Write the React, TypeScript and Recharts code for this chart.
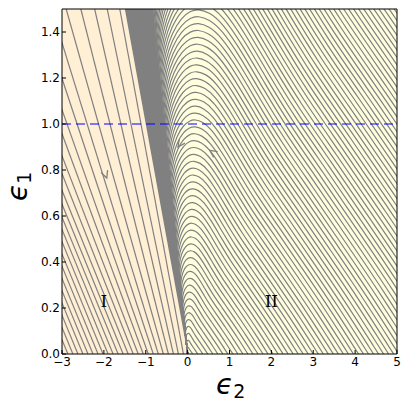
import React from 'react';
import {
  ComposedChart, Line, Area, Scatter, XAxis, YAxis, CartesianGrid, ReferenceLine, Label,
} from 'recharts';

const xTicks = [-3, -2, -1, 0, 1, 2, 3, 4, 5];
const yTicks = [0, 0.2, 0.4, 0.6, 0.8, 1.0, 1.2, 1.4];

// region I flow lines: where each one meets eps1 = 0 and eps1 = 1.5
const lineFeet = [
  -0.1, -0.22, -0.34, -0.46, -0.58, -0.7, -0.82, -0.94, -1.06, -1.18, -1.3, -1.42, -1.54,
  -1.66, -1.78, -1.9, -2.02, -2.14, -2.26, -2.38, -2.5, -2.62, -2.74, -2.86, -2.98,
];
const lineTops = [
  -1.62, -1.92, -2.22, -2.55, -2.9, -3.25, -3.55, -3.85, -4.1, -4.35, -4.55, -4.75, -4.9,
  -5.04, -5.16, -5.28, -5.4, -5.52, -5.64, -5.76, -5.88, -6.0, -6.12, -6.24, -6.36,
];

// region II: one hump (peak height 1) and the peak heights of the family
const humpShape = [
  [0, 0], [-0.11, 0.18], [-0.23, 0.36], [-0.33, 0.52], [-0.4, 0.64], [-0.43, 0.73],
  [-0.42, 0.8], [-0.36, 0.87], [-0.25, 0.93], [-0.1, 0.975], [0.05, 0.995], [0.17, 1],
  [0.35, 0.99], [0.55, 0.96], [0.85, 0.88], [1.2, 0.77], [1.6, 0.65], [2.1, 0.52],
  [2.7, 0.36], [3.3, 0.2], [4.0, 0.0],
];
const humpHeights = [
  0.03, 0.06, 0.09, 0.12, 0.15, 0.18, 0.21, 0.24, 0.27, 0.3, 0.33, 0.36, 0.39, 0.42, 0.45,
  0.48, 0.51, 0.54, 0.57, 0.6, 0.63, 0.66, 0.69, 0.72, 0.75, 0.78, 0.81, 0.84, 0.87, 0.9,
  0.93, 0.96, 0.99, 1.02, 1.05, 1.08, 1.11, 1.14, 1.17, 1.2, 1.23, 1.26, 1.29, 1.32, 1.35,
  1.38, 1.41, 1.44, 1.47, 1.5, 1.53, 1.56, 1.59, 1.62, 1.65, 1.68, 1.71, 1.74, 1.77, 1.8,
  1.83, 1.86, 1.89, 1.92, 1.95, 1.98, 2.01, 2.04, 2.07, 2.1, 2.13, 2.16, 2.19, 2.22, 2.25,
  2.28, 2.31, 2.34, 2.37, 2.4, 2.43, 2.46, 2.49, 2.52, 2.55, 2.58, 2.61, 2.64, 2.67, 2.7,
  2.73, 2.76, 2.79, 2.82, 2.85, 2.9, 3.0, 3.2, 3.4, 3.7, 4.0, 4.5, 5.0, 6.0, 8.0,
];

// dense separatrix band
const bandX = [-1.5, -0.97, -0.54, 0];
const bandLow = [1.5, 0.97, 0.54, 0];
const bandHigh = [1.5, 1.5, 1.0, 0];

// region I fill (left of eps1 = -eps2)
const regionOneX = [-3, -1.5, 0];
const regionOneY = [1.5, 1.5, 0];

const arrowX = [-1.93, 0.53, -0.23];
const arrowY = [0.765, 0.885, 0.9];
const arrowHeading = [70, 215, 125];

const regionNames = ['I', 'II'];
const regionX = [-2.0, 2.0];
const regionY = [0.23, 0.23];

const GRAY = '#808080';
const SANS = '"DejaVu Sans", sans-serif';

const flowLines = lineFeet.map((b, i) => [{ x: b, y: 0 }, { x: lineTops[i], y: 1.5 }]);
const humps = humpHeights.map((h) => humpShape.map(([u, v]) => ({ x: u * h, y: v * h })));
const bandData = bandX.map((x, i) => ({ x, y: [bandLow[i], bandHigh[i]] }));
const regionOneData = regionOneX.map((x, i) => ({ x, y: regionOneY[i] }));
const arrowData = arrowX.map((x, i) => ({ x, y: arrowY[i], heading: arrowHeading[i] }));
const nameData = regionNames.map((name, i) => ({ x: regionX[i], y: regionY[i], name }));

const fmtX = (v: number) => (v < 0 ? `\u2212${Math.abs(v)}` : String(v));
const fmtY = (v: number) => v.toFixed(1);

function Chevron(props: any) {
  const { cx, cy, payload } = props;
  const a = (payload.heading * Math.PI) / 180;
  const len = 8;
  const arm = (d: number) => {
    const t = a + Math.PI + d;
    return `${cx + len * Math.cos(t)},${cy + len * Math.sin(t)}`;
  };
  return (
    <path d={`M${arm(0.45)}L${cx},${cy}L${arm(-0.45)}`} fill="none" stroke={GRAY} strokeWidth={1.3} />
  );
}

function RegionName(props: any) {
  const { cx, cy, payload } = props;
  return (
    <text x={cx} y={cy} textAnchor="middle" dominantBaseline="central"
      fontFamily='"DejaVu Serif", serif' fontSize={17} fill="#000">
      {payload.name}
    </text>
  );
}

const xLabel = () => (
  <text x={216} y={394} fontFamily={SANS} fill="#000">
    <tspan fontSize={28} fontStyle="italic">{'\u03f5'}</tspan>
    <tspan fontSize={19} dy={4}>2</tspan>
  </text>
);

const yLabel = () => (
  <text x={27} y={201} transform="rotate(-90 27 201)" fontFamily={SANS} fill="#000">
    <tspan fontSize={28} fontStyle="italic">{'\u03f5'}</tspan>
    <tspan fontSize={19} dy={4}>1</tspan>
  </text>
);

export default function App() {
  return (
    <div style={{ position: 'absolute', left: 0, top: 0 }}>
      <ComposedChart width={409} height={406} margin={{ top: 8, right: 11, bottom: 22, left: 12 }}>
        <CartesianGrid fill="#FFFFE0" horizontal={false} vertical={false} />
        <XAxis
          dataKey="x" type="number" domain={[-3, 5]} ticks={xTicks} allowDataOverflow
          tickFormatter={fmtX} height={30} tickSize={-4} tickMargin={7}
          tick={{ fontSize: 12, fill: '#000', fontFamily: SANS }}
          axisLine={{ stroke: '#000' }} tickLine={{ stroke: '#000' }}
        >
          <Label content={xLabel} />
        </XAxis>
        <XAxis
          xAxisId="top" orientation="top" dataKey="x" type="number" domain={[-3, 5]} ticks={xTicks}
          allowDataOverflow height={1} tickSize={-4} tick={false}
          axisLine={{ stroke: '#000' }} tickLine={{ stroke: '#000' }}
        />
        <YAxis
          type="number" domain={[0, 1.5]} ticks={yTicks} allowDataOverflow tickFormatter={fmtY}
          width={50} tickSize={-4} tickMargin={6}
          tick={{ fontSize: 12, fill: '#000', fontFamily: SANS }}
          axisLine={{ stroke: '#000' }} tickLine={{ stroke: '#000' }}
        >
          <Label content={yLabel} />
        </YAxis>
        <YAxis
          yAxisId="right" orientation="right" type="number" domain={[0, 1.5]} ticks={yTicks}
          allowDataOverflow width={1} tickSize={-4} tick={false}
          axisLine={{ stroke: '#000' }} tickLine={{ stroke: '#000' }}
        />

        <Area data={regionOneData} dataKey="y" type="linear" fill="#FFEFD5" fillOpacity={1}
          stroke="none" isAnimationActive={false} />

        {humps.map((pts, i) => (
          <Line key={`h${i}`} data={pts} dataKey="y" type="basis" stroke={GRAY} strokeWidth={1.2}
            dot={false} activeDot={false} isAnimationActive={false} />
        ))}
        {flowLines.map((pts, i) => (
          <Line key={`f${i}`} data={pts} dataKey="y" type="linear" stroke={GRAY} strokeWidth={1.2}
            dot={false} activeDot={false} isAnimationActive={false} />
        ))}

        <Area data={bandData} dataKey="y" type="linear" fill={GRAY} fillOpacity={1}
          stroke="none" isAnimationActive={false} />

        <ReferenceLine y={1} stroke="#0000ff" strokeWidth={1} strokeDasharray="9 5" />

        <Scatter data={arrowData} dataKey="y" shape={Chevron} isAnimationActive={false} />
        <Scatter data={nameData} dataKey="y" shape={RegionName} isAnimationActive={false} />
      </ComposedChart>
    </div>
  );
}
